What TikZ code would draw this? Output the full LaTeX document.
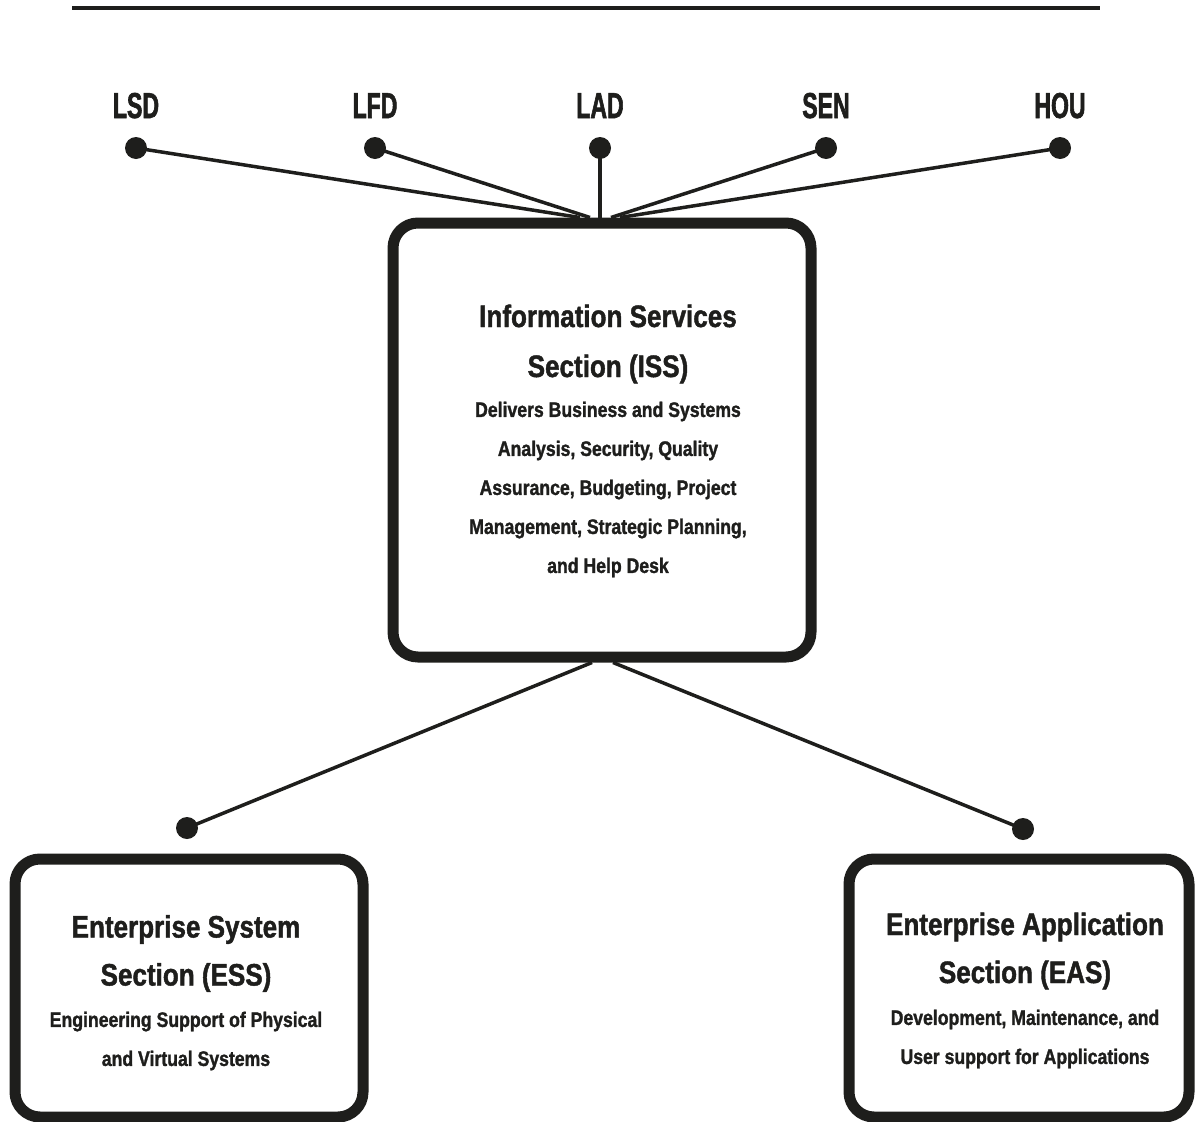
\documentclass[tikz,border=0pt]{standalone}
\usepackage{fontspec}
\setmainfont{Liberation Sans}[FakeStretch=0.84,FakeBold=1.4]
\newfontfamily\labelfont{Liberation Sans}[FakeStretch=0.64,FakeBold=1.6]
\usetikzlibrary{calc}
\definecolor{ink}{RGB}{30,30,28}
\begin{document}
\begin{tikzpicture}[x=1pt,y=-1pt,
  unitbox/.style={draw=ink, line width=11pt, rounded corners=25pt, inner sep=0pt},
  dotnode/.style={circle, fill=ink, inner sep=0pt, minimum size=22pt},
  link/.style={draw=ink, line width=3.5pt},
  sitelabel/.style={font=\labelfont\bfseries\fontsize{36}{36}\selectfont, text=ink, anchor=base, inner sep=0pt},
  titletext/.style={font=\bfseries\fontsize{31}{50}\selectfont, align=center, text=ink, inner sep=0pt},
  subtitle/.style={titletext, font=\bfseries\fontsize{31}{48}\selectfont},
  bodytext/.style={font=\bfseries\fontsize{21}{39}\selectfont, align=center, text=ink, inner sep=0pt}]
\useasboundingbox (0,0) rectangle (1195,1122);

% header rule
\draw[ink, line width=4pt] (72,8) -- (1100,8);

% site labels and their dots
\node[sitelabel] (lsdl) at (136,118) {LSD};
\node[sitelabel] (lfdl) at (375,118) {LFD};
\node[sitelabel] (ladl) at (600,118) {LAD};
\node[sitelabel] (senl) at (826,118) {SEN};
\node[sitelabel] (houl) at (1060,118) {HOU};
\node[dotnode] (lsd) at (136,148) {};
\node[dotnode] (lfd) at (375,148) {};
\node[dotnode] (lad) at (600,148) {};
\node[dotnode] (sen) at (826,148) {};
\node[dotnode] (hou) at (1060,148) {};

% section boxes
\node[unitbox, minimum width=418pt, minimum height=434pt] (iss) at (602,440) {};
\node[unitbox, minimum width=348pt, minimum height=258pt] (ess) at (189,988) {};
\node[unitbox, minimum width=340pt, minimum height=258pt] (eas) at (1019,988) {};

% ISS text
\node[titletext] (isst) at (608,344) {Information Services\\Section (ISS)};
\node[bodytext] (issb) at (608,489.5) {Delivers Business and Systems\\Analysis, Security, Quality\\Assurance, Budgeting, Project\\Management, Strategic Planning,\\and Help Desk};

% ESS text
\node[subtitle] (esst) at (186,953.5) {Enterprise System\\Section (ESS)};
\node[bodytext] (essb) at (186,1041) {Engineering Support of Physical\\and Virtual Systems};

% EAS text
\node[subtitle] (east) at (1025,951) {Enterprise Application\\Section (EAS)};
\node[bodytext] (easb) at (1025,1039) {Development, Maintenance, and\\User support for Applications};

% lower dots
\node[dotnode] (essdot) at (187,828) {};
\node[dotnode] (easdot) at (1023,829) {};

% connectors
\draw[link] (lsd.center) -- ($(iss.north)+(-22,0)$);
\draw[link] (lfd.center) -- ($(iss.north)+(-12,0)$);
\draw[link] (lad.center) -- ($(iss.north)+(-2,0)$);
\draw[link] (sen.center) -- ($(iss.north)+(9,0)$);
\draw[link] (hou.center) -- ($(iss.north)+(18,0)$);
\draw[link] ($(iss.south)+(-10,0)$) -- (essdot.center);
\draw[link] ($(iss.south)+(11,0)$) -- (easdot.center);
\end{tikzpicture}
\end{document}
